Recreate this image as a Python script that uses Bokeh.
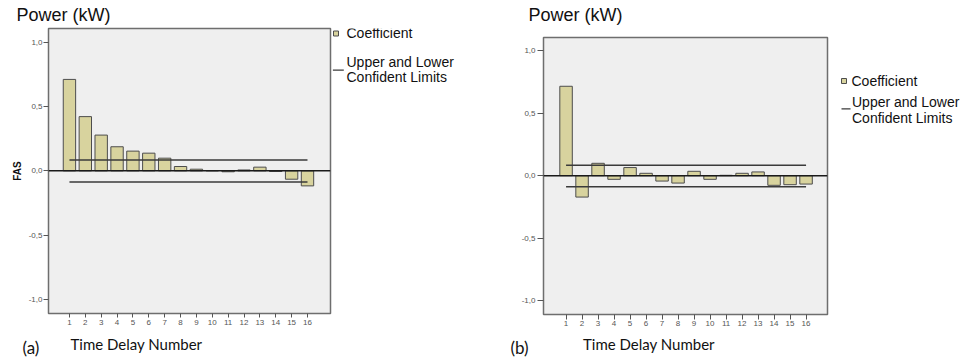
from bokeh.plotting import figure
from bokeh.layouts import row, column
from bokeh.models import Label, BoxAnnotation, Span, FixedTicker, Range1d
from bokeh.embed import file_html
from bokeh.resources import INLINE

# ---------------- data ----------------
lags = list(range(1, 17))
coef_a = [0.713, 0.423, 0.279, 0.188, 0.154, 0.138, 0.099, 0.034,
          0.013, 0.002, -0.007, 0.007, 0.029, -0.005, -0.065, -0.117]
coef_b = [0.715, -0.171, 0.099, -0.029, 0.065, 0.019, -0.043, -0.059,
          0.035, -0.029, 0.003, 0.019, 0.030, -0.077, -0.072, -0.067]
upper_a, lower_a = 0.084, -0.086
upper_b, lower_b = 0.083, -0.088
y_ticks = [-1.0, -0.5, 0.0, 0.5, 1.0]
y_tick_labels = ["-1,0", "-0,5", "0,0", "0,5", "1,0"]
title_text = "Power (kW)"
x_label_text = "Time Delay Number"
y_label_text = "FAS"
legend_coef = "Coefficient"
legend_limits = ["Upper and Lower", "Confident Limits"]
panel_tags = ["(a)", "(b)"]

BAR_FILL = "#d8d39e"
BAR_LINE = "#4d4d4d"
BG = "#efefef"
FRAME = "#6e6e6e"
TXT = "#111111"
FONT = "Liberation Sans"
FONT2 = "Lato"
# half of (ascent - descent) in em: offset from text middle to baseline
MID = {FONT: 0.3465, FONT2: 0.387}


def text_fig(w, h, mbt=0, mbb=0):
    f = figure(width=w, height=h, x_range=Range1d(0, w), y_range=Range1d(0, h - mbt - mbb),
               x_axis_type=None, y_axis_type=None, toolbar_location=None,
               output_backend="svg", min_border=0,
               min_border_top=mbt, min_border_bottom=mbb)
    f.outline_line_color = None
    f.background_fill_color = "white"
    f.border_fill_color = "white"
    return f


def add_text(f, x, y_base, text, size, font=FONT, color=TXT):
    # y_base: distance of the text baseline above the frame bottom
    f.add_layout(Label(x=x, y=y_base + MID[font] * size, x_units="screen", y_units="screen",
                       text=text, text_font=font, text_font_size=f"{size}px",
                       text_color=color, text_baseline="middle",
                       text_align="left"))


def add_box(f, l, r, b, t, fill, line=None):
    f.add_layout(BoxAnnotation(left=l, right=r, bottom=b, top=t,
                               left_units="screen", right_units="screen",
                               bottom_units="screen", top_units="screen",
                               fill_color=fill, fill_alpha=1,
                               line_color=line, line_width=1, line_alpha=1))


def plot_fig(coefs, upper, lower, c):
    p = figure(width=c["width"], height=c["height"],
               x_range=Range1d(*c["xr"]), y_range=Range1d(*c["yr"]),
               output_backend="svg", toolbar_location=None,
               min_border_left=c["mbl"], min_border_right=c["mbr"],
               min_border_top=c["mbt"], min_border_bottom=c["mbb"])
    p.background_fill_color = BG
    p.border_fill_color = "white"
    p.outline_line_color = FRAME
    p.outline_line_width = 1.5
    p.xgrid.visible = False
    p.ygrid.visible = False

    p.vbar(x=lags, top=coefs, bottom=0, width=0.78,
           fill_color=BAR_FILL, line_color=BAR_LINE, line_width=1)
    p.add_layout(Span(location=0, dimension="width",
                      line_color="#1a1a1a", line_width=1.5))
    p.line(x=[lags[0], lags[-1]], y=[upper, upper], line_color="#3a3a3a", line_width=1.5)
    p.line(x=[lags[0], lags[-1]], y=[lower, lower], line_color="#3a3a3a", line_width=1.5)

    xa = p.xaxis[0]
    xa.ticker = FixedTicker(ticks=lags)
    xa.axis_line_color = None
    xa.major_tick_in = 0
    xa.major_tick_out = c["xtick_out"]
    xa.major_tick_line_color = "#555555"
    xa.minor_tick_line_color = None
    xa.major_label_standoff = c["xstand"]
    xa.major_label_text_font = FONT
    xa.major_label_text_font_size = "8px"
    xa.major_label_text_color = "#555555"

    ya = p.yaxis[0]
    ya.ticker = FixedTicker(ticks=y_ticks)
    ya.major_label_overrides = {t: s for t, s in zip(y_ticks, y_tick_labels)}
    ya.axis_line_color = None
    ya.major_tick_in = 0
    ya.major_tick_out = c["ytick_out"]
    ya.major_tick_line_color = "#555555"
    ya.minor_tick_line_color = None
    ya.major_label_standoff = c["ystand"]
    ya.major_label_text_font = FONT
    ya.major_label_text_font_size = "8px"
    ya.major_label_text_color = "#555555"
    if c["ylabel"]:
        ya.axis_label = y_label_text
        ya.axis_label_text_font = FONT
        ya.axis_label_text_font_style = "bold"
        ya.axis_label_text_font_size = "10px"
        ya.axis_label_text_color = TXT
        ya.axis_label_standoff = 3
    return p


def panel(coefs, upper, lower, tag, c):
    W = c["total_w"]
    t = text_fig(W, 26)
    add_text(t, c["title_x"], 5.3, title_text, 18)

    p = plot_fig(coefs, upper, lower, c)

    # legend area beside the plot; its frame bottom matches the plot frame bottom
    lg = text_fig(W - c["width"], c["height"], mbt=0, mbb=c["mbb"])
    add_box(lg, *c["square"], fill=BAR_FILL, line=BAR_LINE)
    add_box(lg, *c["limline"], fill="#3a3a3a")
    add_text(lg, *c["coef_txt"], legend_coef, 14)
    add_text(lg, *c["lim1"], legend_limits[0], 14)
    add_text(lg, *c["lim2"], legend_limits[1], 14)

    b = text_fig(W, 31)
    add_text(b, c["tag_x"], 9.0, tag, 17, FONT2)
    add_text(b, c["xlab_x"], 14.0, x_label_text, 15, FONT2)

    return column(t, row(p, lg, spacing=0), b, spacing=0)


cfg_a = dict(total_w=480, width=332, height=306, mbl=48, mbr=2, mbt=2, mbb=19,
             xr=(-0.32, 17.45), yr=(-1.112, 1.11), ylabel=True,
             xtick_out=4, xstand=2, ytick_out=5, ystand=1,
             title_x=16.0,
             square=(1.0, 6.0, 277.5, 282.5),
             limline=(0.3, 11.3, 242.7, 243.9),
             coef_txt=(14.0, 275.3), lim1=(14.0, 246.3), lim2=(14.0, 232.0),
             tag_x=22.0, xlab_x=70.0)

cfg_b = dict(total_w=484, width=350, height=306, mbl=63, mbr=3, mbt=11, mbb=18,
             xr=(-0.41, 17.34), yr=(-1.11, 1.105), ylabel=False,
             xtick_out=5, xstand=1, ytick_out=6, ystand=2,
             title_x=48.0,
             square=(11.0, 16.0, 231.0, 236.0),
             limline=(11.0, 20.0, 205.1, 206.3),
             coef_txt=(21.0, 228.3), lim1=(21.5, 207.3), lim2=(21.5, 191.7),
             tag_x=30.0, xlab_x=102.5)

pa = panel(coef_a, upper_a, lower_a, panel_tags[0], cfg_a)
pb = panel(coef_b, upper_b, lower_b, panel_tags[1], cfg_b)
layout = row(pa, pb, spacing=0)

open("out.html", "w").write(file_html(layout, INLINE))
